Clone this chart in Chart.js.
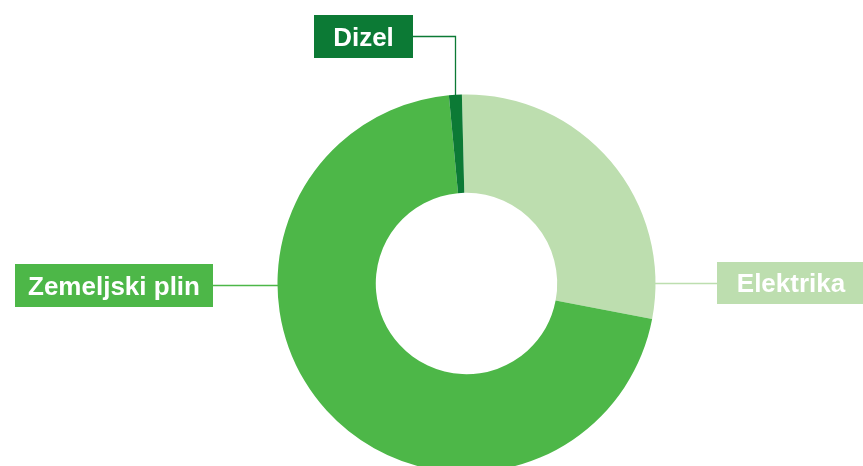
<!DOCTYPE html>
<html>
<head>
<meta charset="utf-8">
<script src="https://cdn.jsdelivr.net/npm/chart.js@4"></script>
<style>
  html, body { margin: 0; padding: 0; background: #fff; overflow: hidden; }
  #wrap { position: relative; width: 863px; height: 500px; }
</style>
</head>
<body>
<div id="wrap"><canvas id="chart"></canvas></div>
<script>
// energenti - delež porabe (%)
const labels = ['Elektrika', 'Zemeljski plin', 'Dizel'];
const values = [28.4, 70.5, 1.1];
const colors = ['#bddeaf', '#4db748', '#0c7a35'];

// položaj oznak (škatle z napisi)
const labelBoxes = [
    { x: 717, y: 262, w: 148, h: 42, side: 'right' },
    { x: 15, y: 264, w: 198, h: 43, side: 'left' },
    { x: 314, y: 15, w: 99, h: 43, side: 'top' }
];

const calloutPlugin = {
    id: 'callouts',
    afterDraw(chart) {
        const ctx = chart.ctx;
        const meta = chart.getDatasetMeta(0);
        ctx.save();
        meta.data.forEach((arc, i) => {
            const box = labelBoxes[i];
            const cx = arc.x, cy = arc.y, r = arc.outerRadius;
            const by = box.y + box.h / 2;
            const ly = Math.floor(by) + 0.5; // ostra črta

            ctx.strokeStyle = colors[i];
            ctx.lineWidth = 1.3;
            ctx.beginPath();
            if (box.side === 'right') {
                const dy = ly - cy;
                ctx.moveTo(cx + Math.sqrt(r * r - dy * dy) - 1, ly);
                ctx.lineTo(box.x, ly);
            } else if (box.side === 'left') {
                const dy = ly - cy;
                ctx.moveTo(cx - Math.sqrt(r * r - dy * dy) + 1, ly);
                ctx.lineTo(box.x + box.w, ly);
            } else {
                const mid = (arc.startAngle + arc.endAngle) / 2;
                const px = Math.floor(cx + Math.cos(mid) * r) + 0.5;
                const py = cy + Math.sin(mid) * r + 1;
                ctx.moveTo(px, py);
                ctx.lineTo(px, ly);
                ctx.lineTo(box.x + box.w, ly);
            }
            ctx.stroke();

            ctx.fillStyle = colors[i];
            ctx.fillRect(box.x, box.y, box.w, box.h);

            ctx.fillStyle = '#ffffff';
            ctx.font = 'bold 26px "Liberation Sans", Arial, sans-serif';
            ctx.textAlign = 'center';
            ctx.textBaseline = 'alphabetic';
            ctx.fillText(labels[i], box.x + box.w / 2, by + 9.3);
        });
        ctx.restore();
    }
};

new Chart(document.getElementById('chart'), {
    type: 'doughnut',
    data: {
        labels: labels,
        datasets: [{
            data: values,
            backgroundColor: colors,
            borderWidth: 0
        }]
    },
    options: {
        responsive: true,
        maintainAspectRatio: false,
        animation: false,
        cutout: '48%',
        rotation: -1.4,
        layout: { padding: { top: 94.5, bottom: 27.5, left: 70, right: 0 } },
        plugins: {
            legend: { display: false },
            tooltip: { enabled: false }
        }
    },
    plugins: [calloutPlugin]
});
</script>
</body>
</html>
